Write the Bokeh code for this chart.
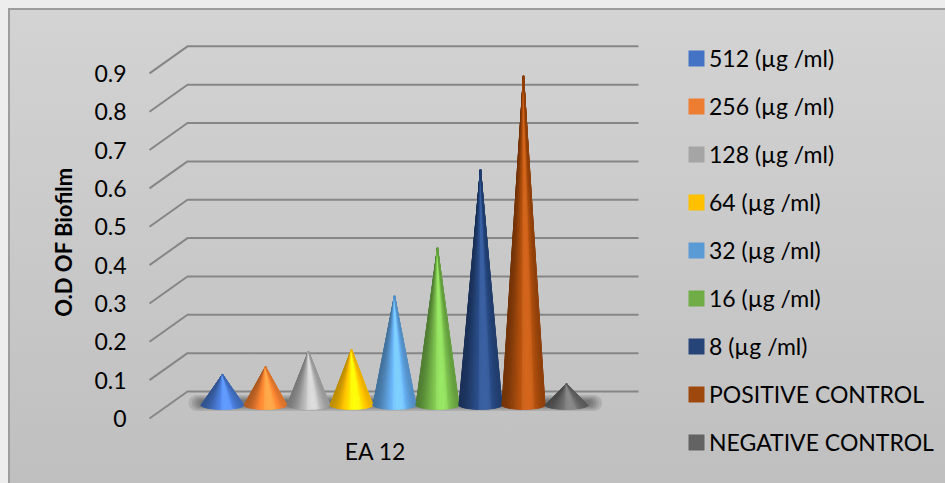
import numpy as np
from bokeh.plotting import figure
from bokeh.models import (ColumnDataSource, Range1d, LinearAxis, FixedTicker,
                          NumeralTickFormatter, Legend, LegendItem)
from bokeh.core.properties import value
from bokeh.embed import file_html
from bokeh.resources import INLINE

# ---- data -------------------------------------------------------------
series = ["512 (µg /ml)", "256 (µg /ml)", "128 (µg /ml)", "64 (µg /ml)",
          "32 (µg /ml)", "16 (µg /ml)", "8 (µg /ml)",
          "POSITIVE CONTROL", "NEGATIVE CONTROL"]
od_values = [0.08, 0.10, 0.14, 0.145, 0.285, 0.41, 0.615, 0.86, 0.055]
series_colors = ["#4472C4", "#ED7D31", "#A5A5A5", "#FFC000", "#5B9BD5",
                 "#70AD47", "#264478", "#9E480E", "#636363"]
category = "EA 12"
y_ticks = [0, 0.1, 0.2, 0.3, 0.4, 0.5, 0.6, 0.7, 0.8, 0.9]

# ---- layout constants (pixels) ----------------------------------------
W, H = 945, 483
FRAME_L = 130
SLOT_PX = 43.0        # one cone slot
UNIT_PX = 383.5       # one O.D unit
X0_PX = 222.0         # centre of the first cone
Y0_PX = 404.5         # floor level of the cone plane
DEPTH_DX_PX = 19.0    # half-depth of the 3-D box, horizontal
DEPTH_DY_PX = 13.5    # half-depth of the 3-D box, vertical
WALL_L_PX, WALL_R_PX = 168.0, 619.0
CAT_BASELINE_PX = 450.0
FONT = "Lato"
FS = "23px"

DX = DEPTH_DX_PX / SLOT_PX
DY = DEPTH_DY_PX / UNIT_PX

x_mid = Range1d((FRAME_L - X0_PX) / SLOT_PX, (W - X0_PX) / SLOT_PX)
y_mid = Range1d((Y0_PX - H) / UNIT_PX, Y0_PX / UNIT_PX)

p = figure(width=W, height=H, x_range=x_mid, y_range=y_mid,
           output_backend="svg", toolbar_location=None,
           x_axis_location=None, y_axis_location=None,
           min_border_left=FRAME_L, min_border_right=0,
           min_border_top=0, min_border_bottom=0)
p.background_fill_color = None
p.border_fill_color = None
p.outline_line_color = None
p.xgrid.visible = False
p.ygrid.visible = False
p.styles = {
    "background": (
        "linear-gradient(#9d9d9d,#9d9d9d) 8px 8px / 2px 100% no-repeat, "
        "linear-gradient(#9d9d9d,#9d9d9d) 8px 8px / 100% 2px no-repeat, "
        "linear-gradient(to bottom, #d3d3d3, #bfbfbf) 8px 8px / 100% 100% no-repeat, "
        "#ededed"
    )
}

# front plane (axis labels) and the cone plane differ only by the depth shift
p.extra_y_ranges = {"front": Range1d(y_mid.start + DY, y_mid.end + DY)}
p.extra_x_ranges = {"front": Range1d(x_mid.start + DX, x_mid.end + DX)}

# ---- walls: slanted side-wall lines + back-wall gridlines ----------------
wall_l = (WALL_L_PX - X0_PX) / SLOT_PX
wall_r = (WALL_R_PX - X0_PX) / SLOT_PX
grid_xs, grid_ys = [], []
for v in y_ticks:
    grid_xs.append([wall_l - DX, wall_l + DX, wall_r + DX])
    grid_ys.append([v - DY, v + DY, v + DY])
p.multi_line(grid_xs, grid_ys, line_color="#868686", line_width=2)

# ---- soft floor shadow under the row of cones ----------------------------
def stadium(cx, cy, half_len, r_px, n=24):
    rx, ry = r_px / SLOT_PX, r_px / UNIT_PX
    t1 = np.linspace(-np.pi / 2, np.pi / 2, n)
    t2 = np.linspace(np.pi / 2, 3 * np.pi / 2, n)
    xs = np.concatenate([cx + half_len + rx * np.cos(t1), cx - half_len + rx * np.cos(t2)])
    ys = np.concatenate([cy + ry * np.sin(t1), cy + ry * np.sin(t2)])
    return list(xs), list(ys)

n_series = len(series)
row_c = (n_series - 1) / 2
shadow_xs, shadow_ys = [], []
for hl, r in [(4.62, 8.0), (4.58, 6.5), (4.55, 5.2), (4.52, 4.0), (4.48, 3.0)]:
    xs, ys = stadium(row_c + 0.02, 2.0 / UNIT_PX, hl, r)
    shadow_xs.append(xs)
    shadow_ys.append(ys)
p.patches(shadow_xs, shadow_ys, fill_color="#2e2e2e", fill_alpha=0.13, line_color=None)

# ---- cones ------------------------------------------------------------------
RX = 0.5                 # base radius in slots
RY = 4.5 / UNIT_PX       # base ellipse half-height
N_SLICES = 48


def lit(hex_color, u):
    """Shade a base colour for a point at fraction u across the cone."""
    r, g, b = (int(hex_color[i:i + 2], 16) for i in (1, 3, 5))
    peak = 0.62
    if u < peak:
        t = u / peak
        f = 0.74 + (1.28 - 0.74) * (1 - np.cos(np.pi * t)) / 2
    else:
        t = (u - peak) / (1 - peak)
        f = 1.28 - (1.28 - 0.92) * (1 - np.cos(np.pi * t)) / 2
    c = [min(255, int(round(ch * f + (12 if f > 1.2 else 0)))) for ch in (r, g, b)]
    return "#%02x%02x%02x" % tuple(c)


legend_items = []
theta = np.linspace(np.pi, 2 * np.pi, N_SLICES + 1)
for i, (name, val, col) in enumerate(zip(series, od_values, series_colors)):
    bx = i + RX * np.cos(theta)
    by = RY * np.sin(theta)
    # silhouette in the series colour (also serves as the legend swatch)
    sil = p.patch(list(np.concatenate([[i], bx])), list(np.concatenate([[val], by])),
                  fill_color=col, line_color=None)
    legend_items.append(LegendItem(label=name, renderers=[sil]))
    # shaded facets
    xs, ys, cs = [], [], []
    for k in range(N_SLICES):
        xs.append([i, bx[k], bx[k + 1]])
        ys.append([val, by[k], by[k + 1]])
        u = ((bx[k] + bx[k + 1]) / 2 - (i - RX)) / (2 * RX)
        cs.append(lit(col, u))
    src = ColumnDataSource(dict(xs=xs, ys=ys, c=cs))
    p.patches("xs", "ys", source=src, fill_color="c", line_color="c", line_width=0.6)

# ---- value axis ------------------------------------------------------------
yaxis = LinearAxis(y_range_name="front", ticker=FixedTicker(ticks=y_ticks),
                   formatter=NumeralTickFormatter(format="0.[0]"),
                   axis_label="O.D OF Biofilm")
yaxis.axis_line_color = None
yaxis.major_tick_line_color = None
yaxis.minor_tick_line_color = None
yaxis.major_label_standoff = -2
yaxis.major_label_text_font = FONT
yaxis.major_label_text_font_size = FS
yaxis.major_label_text_color = "#000000"
yaxis.axis_label_text_font = FONT
yaxis.axis_label_text_font_size = "22px"
yaxis.axis_label_text_font_style = "bold"
yaxis.axis_label_text_color = "#000000"
yaxis.axis_label_standoff = 14
p.add_layout(yaxis, "left")

# ---- category label under the front edge of the floor -----------------------
cat_y = (Y0_PX + DEPTH_DY_PX - CAT_BASELINE_PX) / UNIT_PX
p.text(x=[row_c], y=[cat_y], text=[category], x_range_name="front", y_range_name="front",
       text_font=value(FONT), text_font_size=FS, text_color="#000000",
       text_align="center", text_baseline="alphabetic")

# ---- legend -----------------------------------------------------------------
legend = Legend(items=legend_items, location=(556, 27),
                glyph_width=20, glyph_height=20, label_standoff=3,
                spacing=20, padding=0, margin=0,
                border_line_color=None, background_fill_alpha=0,
                label_text_font=FONT, label_text_font_size=FS,
                label_text_color="#000000")
p.add_layout(legend)

open("out.html", "w").write(file_html(p, INLINE))
